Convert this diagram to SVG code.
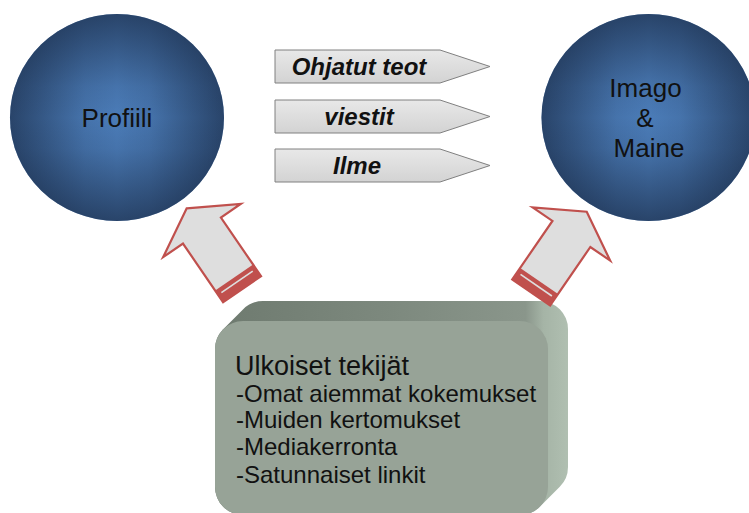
<svg xmlns="http://www.w3.org/2000/svg" width="749" height="513" viewBox="0 0 749 513">
<defs>
<linearGradient id="gh" x1="0" y1="0" x2="1" y2="0">
<stop offset="0" stop-color="#14223a" stop-opacity="0.62"/>
<stop offset="0.15" stop-color="#14223a" stop-opacity="0.4"/>
<stop offset="0.35" stop-color="#14223a" stop-opacity="0.1"/>
<stop offset="0.5" stop-color="#14223a" stop-opacity="0"/>
<stop offset="0.65" stop-color="#14223a" stop-opacity="0.1"/>
<stop offset="0.85" stop-color="#14223a" stop-opacity="0.4"/>
<stop offset="1" stop-color="#14223a" stop-opacity="0.62"/>
</linearGradient>
<linearGradient id="gv" x1="0" y1="0" x2="0" y2="1">
<stop offset="0" stop-color="#14223a" stop-opacity="0.62"/>
<stop offset="0.15" stop-color="#14223a" stop-opacity="0.4"/>
<stop offset="0.35" stop-color="#14223a" stop-opacity="0.1"/>
<stop offset="0.5" stop-color="#14223a" stop-opacity="0"/>
<stop offset="0.65" stop-color="#14223a" stop-opacity="0.1"/>
<stop offset="0.85" stop-color="#14223a" stop-opacity="0.4"/>
<stop offset="1" stop-color="#14223a" stop-opacity="0.62"/>
</linearGradient>
<linearGradient id="gp" x1="0" y1="0" x2="0" y2="1">
<stop offset="0" stop-color="#e8e8e8"/>
<stop offset="1" stop-color="#d3d3d3"/>
</linearGradient>
<linearGradient id="gbox" gradientUnits="userSpaceOnUse" x1="215" y1="0" x2="568" y2="0">
<stop offset="0" stop-color="#6e7a6f"/>
<stop offset="0.5" stop-color="#7d897e"/>
<stop offset="0.88" stop-color="#8a968b"/>
<stop offset="0.93" stop-color="#a5b4a6"/>
<stop offset="1" stop-color="#b0bfb1"/>
</linearGradient>
<path id="bigarrow" d="M0,0 L47,27 L23,27 L23,98 L-23,98 L-23,27 L-47,27 Z"/>
</defs>
<style>
.base{fill:#4b7cb8}
.t{font-family:"Liberation Sans",Arial,sans-serif;fill:#111}
.big{font-size:26px;text-anchor:middle}
.lbl{font-size:24px;font-weight:bold;font-style:italic;text-anchor:middle}
.item{font-size:24px}
.pent{fill:url(#gp);stroke:#808080;stroke-width:1}
.arr{fill:#dedede;stroke:#c0504d;stroke-width:2.2;stroke-linejoin:miter}
.band{fill:#c0504d}
.bandline{fill:#dedede}
</style>

<g id="ulkoiset">
<path d="M215,487 L215,349 A28,28 0 0 1 223.2,329.2 L243.2,309.2 A28,28 0 0 1 263,301 L540,301 A28,28 0 0 1 568,329 L568,467 A28,28 0 0 1 559.8,486.8 L539.8,506.8 A28,28 0 0 1 520,515 L243,515 A28,28 0 0 1 215,487 Z" fill="url(#gbox)"/>
<rect x="215" y="321" width="333" height="194" rx="28" fill="#97a397"/>
<text class="t" x="235" y="375" font-size="27">Ulkoiset tekijät</text>
<text class="t item" x="236" y="401.7">-Omat aiemmat kokemukset</text>
<text class="t item" x="236" y="428.3">-Muiden kertomukset</text>
<text class="t item" x="236" y="455">-Mediakerronta</text>
<text class="t item" x="236" y="483">-Satunnaiset linkit</text>
</g>

<g id="profiili">
<ellipse class="base" cx="117" cy="117.5" rx="107" ry="103.5"/>
<ellipse cx="117" cy="117.5" rx="107" ry="103.5" fill="url(#gh)"/>
<ellipse cx="117" cy="117.5" rx="107" ry="103.5" fill="url(#gv)"/>
<text class="t big" x="117" y="126.7">Profiili</text>
</g>

<g id="imago">
<ellipse class="base" cx="648.5" cy="117.5" rx="107" ry="103.5"/>
<ellipse cx="648.5" cy="117.5" rx="107" ry="103.5" fill="url(#gh)"/>
<ellipse cx="648.5" cy="117.5" rx="107" ry="103.5" fill="url(#gv)"/>
<text class="t big" x="645.5" y="96.7">Imago</text>
<text class="t big" x="645" y="127">&amp;</text>
<text class="t big" x="649" y="157">Maine</text>
</g>

<g id="label-ohjatut">
<path class="pent" d="M275,50 H440 L490,66.5 L440,83 H275 Z"/>
<text class="t lbl" x="359" y="75">Ohjatut teot</text>
</g>
<g id="label-viestit">
<path class="pent" d="M275,100 H440 L490,116.5 L440,133 H275 Z"/>
<text class="t lbl" x="359" y="124.5">viestit</text>
</g>
<g id="label-ilme">
<path class="pent" d="M275,149 H440 L490,165.5 L440,182 H275 Z"/>
<text class="t lbl" x="357" y="173.5">Ilme</text>
</g>

<g id="connectors">
<g transform="translate(186.7,208.3) rotate(-34.4)">
<use href="#bigarrow" class="arr"/>
<rect class="band" x="-23" y="84" width="46" height="14"/>
<rect class="bandline" x="-19" y="88.3" width="38" height="1.7"/>
</g>
<g transform="translate(586.7,211.7) rotate(34.5)">
<use href="#bigarrow" class="arr"/>
<rect class="band" x="-23" y="84" width="46" height="14"/>
<rect class="bandline" x="-19" y="88.3" width="38" height="1.7"/>
</g>
</g>
</svg>
